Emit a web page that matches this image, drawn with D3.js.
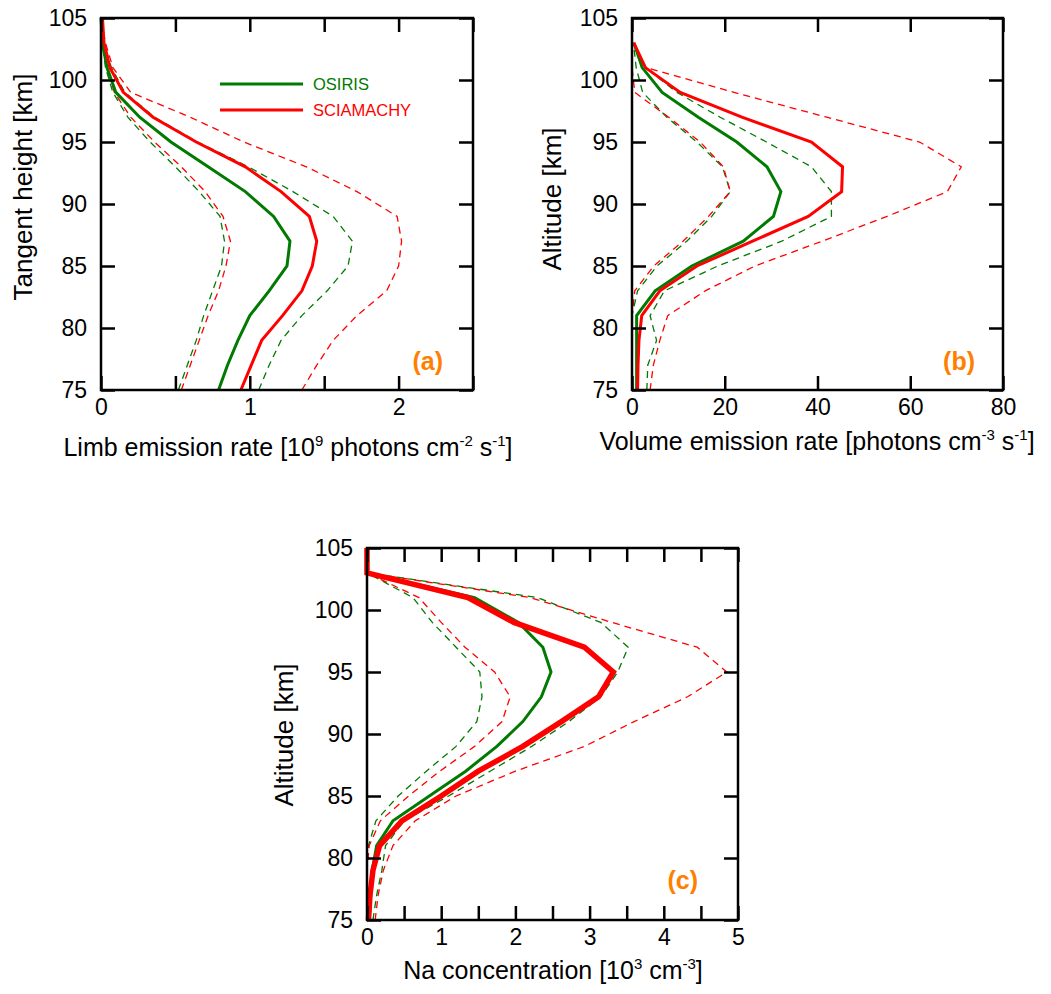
<!DOCTYPE html>
<html>
<head>
<meta charset="utf-8">
<script src="https://cdn.jsdelivr.net/npm/d3@7"></script>
<style>
  body { margin: 0; background: #fff; }
  svg { display: block; }
  text { font-family: "Liberation Sans", Arial, Helvetica, sans-serif; }
</style>
</head>
<body>
<svg id="fig" width="1051" height="994"></svg>
<script>
// altitude grid (km), shared by all panels
var altitudes = [75, 77, 79, 81, 83, 85, 87, 89, 91, 93, 95, 97, 99, 101, 103, 105]

// (a) limb emission rate [1e9 photons cm-2 s-1]
var osirisA   = [0.79, 0.85, 0.92, 1.00, 1.13, 1.25, 1.27, 1.16, 0.97, 0.72, 0.47, 0.26, 0.10, 0.04, 0.01, 0.00]
var osirisLoA = [0.52, 0.58, 0.64, 0.69, 0.75, 0.81, 0.83, 0.80, 0.66, 0.50, 0.33, 0.18, 0.08, 0.03, 0.01, 0.00]
var osirisHiA = [1.06, 1.13, 1.21, 1.35, 1.52, 1.66, 1.69, 1.56, 1.29, 0.99, 0.65, 0.36, 0.16, 0.07, 0.02, 0.00]
var sciaA     = [0.94, 1.01, 1.08, 1.22, 1.35, 1.42, 1.45, 1.40, 1.21, 0.97, 0.64, 0.35, 0.15, 0.06, 0.02, 0.01]
var sciaLoA   = [0.54, 0.60, 0.66, 0.72, 0.79, 0.84, 0.87, 0.82, 0.70, 0.54, 0.36, 0.20, 0.09, 0.04, 0.02, 0.00]
var sciaHiA   = [1.35, 1.45, 1.56, 1.72, 1.92, 2.00, 2.02, 1.99, 1.72, 1.38, 0.96, 0.60, 0.20, 0.08, 0.03, 0.00]

// (b) volume emission rate [photons cm-3 s-1], 75..103 km
var osirisB   = [1.0, 1.0, 1.0, 1.0, 5.0, 12.9, 24.0, 30.5, 32.1, 29.1, 22.6, 14.3, 6.5, 2.2, 0.4]
var osirisLoB = [0.0, 0.0, 0.0, 0.0, 1.2, 5.4, 11.8, 17.2, 21.2, 19.5, 14.0, 7.5, 2.3, 0.9, 0.3]
var osirisHiB = [3.2, 3.4, 5.3, 3.9, 7.0, 18.5, 32.3, 43.0, 43.0, 38.7, 29.0, 19.0, 9.7, 2.9, 0.4]
var sciaB     = [1.2, 1.3, 1.5, 2.1, 6.0, 14.0, 26.0, 38.0, 45.2, 45.4, 38.7, 23.7, 10.4, 2.9, 0.4]
var sciaLoB   = [0.0, 0.0, 0.0, 0.0, 0.6, 4.7, 11.0, 16.5, 21.2, 19.7, 14.7, 7.9, 0.6, 0.0, 0.0]
var sciaHiB   = [3.9, 4.6, 6.0, 7.7, 15.8, 26.5, 41.0, 55.0, 68.0, 71.0, 62.0, 42.0, 22.0, 3.0, 0.3]

// (c) Na concentration [1e3 cm-3]
var osirisC   = [0.03, 0.05, 0.07, 0.13, 0.35, 0.84, 1.33, 1.75, 2.10, 2.35, 2.48, 2.37, 2.04, 1.45, 0.00, 0.00]
var osirisLoC = [0.00, 0.00, 0.00, 0.02, 0.12, 0.42, 0.80, 1.20, 1.48, 1.55, 1.52, 1.20, 0.88, 0.62, 0.00, 0.00]
var osirisHiC = [0.08, 0.13, 0.20, 0.25, 0.50, 1.10, 1.66, 2.22, 2.72, 3.15, 3.38, 3.52, 3.15, 2.30, 0.00, 0.00]
var sciaC     = [0.02, 0.04, 0.08, 0.17, 0.47, 1.00, 1.50, 2.10, 2.62, 3.12, 3.32, 2.93, 1.98, 1.36, 0.00, 0.00]
var sciaLoC   = [0.00, 0.00, 0.00, 0.03, 0.18, 0.56, 0.98, 1.45, 1.82, 1.93, 1.72, 1.32, 1.00, 0.70, 0.00, 0.00]
var sciaHiC   = [0.11, 0.15, 0.22, 0.35, 0.65, 1.20, 2.00, 2.93, 3.60, 4.32, 4.85, 4.45, 3.30, 2.20, 0.00, 0.00]

var altTicks = [75, 80, 85, 90, 95, 100, 105]
var xTicksA = [0, 0.5, 1, 1.5, 2, 2.5], xLabelsA = [0, 1, 2]
var xTicksB = [0, 20, 40, 60, 80], xLabelsB = [0, 20, 40, 60, 80]
var xTicksC = [0, 0.5, 1, 1.5, 2, 2.5, 3, 3.5, 4, 4.5, 5], xLabelsC = [0, 1, 2, 3, 4, 5]
var legendNames = ['OSIRIS', 'SCIAMACHY']

var green = '#007a00'
var red = '#ff0000'
var orange = '#ff8000'
var font = '"Liberation Sans", Arial, Helvetica, sans-serif'

var svg = d3.select('#fig')
svg.append('rect').attr('width', 1051).attr('height', 994).attr('fill', '#fff')

function seriesSet(lo, hi, loS, hiS, mid, midS, redWidth) {
  return [
    { v: lo, c: green, w: 1.3, dash: '7,5' },
    { v: hi, c: green, w: 1.3, dash: '7,5' },
    { v: loS, c: red, w: 1.3, dash: '7,5' },
    { v: hiS, c: red, w: 1.3, dash: '7,5' },
    { v: mid, c: green, w: 3 },
    { v: midS, c: red, w: redWidth }
  ]
}

var panels = [
  {
    id: 'a', left: 101, right: 473, top: 18, bottom: 390,
    xDomain: [0, 2.5], xTicks: xTicksA, xLabels: xLabelsA,
    series: seriesSet(osirisLoA, osirisHiA, sciaLoA, sciaHiA, osirisA, sciaA, 3),
    yTitle: 'Tangent height [km]', yTitlePos: [32, 187],
    xTitle: [['Limb emission rate [10'], ['9', 1], [' photons cm'], ['-2', 1], [' s'], ['-1', 1], [']']],
    xTitlePos: [288, 456],
    tag: '(a)', tagPos: [443, 370]
  },
  {
    id: 'b', left: 632, right: 1003, top: 18, bottom: 390,
    xDomain: [0, 80], xTicks: xTicksB, xLabels: xLabelsB,
    series: seriesSet(osirisLoB, osirisHiB, sciaLoB, sciaHiB, osirisB, sciaB, 3),
    yTitle: 'Altitude [km]', yTitlePos: [561, 199],
    xTitle: [['Volume emission rate [photons cm'], ['-3', 1], [' s'], ['-1', 1], [']']],
    xTitlePos: [817, 450],
    tag: '(b)', tagPos: [975, 370]
  },
  {
    id: 'c', left: 367, right: 738, top: 548, bottom: 920,
    xDomain: [0, 5], xTicks: xTicksC, xLabels: xLabelsC,
    series: seriesSet(osirisLoC, osirisHiC, sciaLoC, sciaHiC, osirisC, sciaC, 5.5),
    yTitle: 'Altitude [km]', yTitlePos: [293, 735],
    xTitle: [['Na concentration [10'], ['3', 1], [' cm'], ['-3', 1], [']']],
    xTitlePos: [553, 979],
    tag: '(c)', tagPos: [698, 889]
  }
]

function styleAxis(g, size) {
  g.select('.domain').remove()
  g.attr('font-family', font).attr('font-size', size)
  g.selectAll('.tick line').attr('stroke', '#000').attr('stroke-width', 2.5)
  g.selectAll('.tick text').attr('fill', '#000')
}

panels.forEach(function(p) {
  var x = d3.scaleLinear().domain(p.xDomain).range([p.left, p.right])
  var y = d3.scaleLinear().domain([75, 105]).range([p.bottom, p.top])

  var clipId = 'clip-' + p.id
  svg.append('clipPath').attr('id', clipId)
    .append('rect')
    .attr('x', p.left - 3).attr('y', p.top - 3)
    .attr('width', p.right - p.left + 6).attr('height', p.bottom - p.top + 6)

  var line = d3.line()
    .x(function(d) { return x(d[1]) })
    .y(function(d) { return y(d[0]) })

  var lines = svg.append('g').attr('clip-path', 'url(#' + clipId + ')')
  p.series.forEach(function(s) {
    lines.append('path')
      .datum(s.v.map(function(v, i) { return [altitudes[i], v] }))
      .attr('d', line)
      .attr('fill', 'none')
      .attr('stroke', s.c)
      .attr('stroke-width', s.w)
      .attr('stroke-dasharray', s.dash || null)
      .attr('stroke-linejoin', 'miter')
  })

  // axes, ticks pointing inward on all four sides
  var fmtX = function(d) { return p.xLabels.indexOf(d) >= 0 ? d : '' }
  svg.append('g')
    .attr('transform', 'translate(0,' + p.bottom + ')')
    .call(d3.axisBottom(x).tickValues(p.xTicks).tickSize(-14).tickPadding(9).tickFormat(fmtX))
    .call(styleAxis, 23)
  svg.append('g')
    .attr('transform', 'translate(0,' + p.top + ')')
    .call(d3.axisTop(x).tickValues(p.xTicks).tickSize(-14).tickFormat(''))
    .call(styleAxis, 23)
  svg.append('g')
    .attr('transform', 'translate(' + p.left + ',0)')
    .call(d3.axisLeft(y).tickValues(altTicks).tickSize(-14).tickPadding(14))
    .call(styleAxis, 23)
  svg.append('g')
    .attr('transform', 'translate(' + p.right + ',0)')
    .call(d3.axisRight(y).tickValues(altTicks).tickSize(-14).tickFormat(''))
    .call(styleAxis, 23)

  svg.append('rect')
    .attr('x', p.left).attr('y', p.top)
    .attr('width', p.right - p.left).attr('height', p.bottom - p.top)
    .attr('fill', 'none').attr('stroke', '#000').attr('stroke-width', 2.5)

  // y title
  svg.append('text')
    .attr('transform', 'translate(' + p.yTitlePos[0] + ',' + p.yTitlePos[1] + ') rotate(-90)')
    .attr('text-anchor', 'middle')
    .attr('font-size', 26)
    .text(p.yTitle)

  // x title with superscripts
  var t = svg.append('text')
    .attr('x', p.xTitlePos[0]).attr('y', p.xTitlePos[1])
    .attr('text-anchor', 'middle')
    .attr('font-size', 25)
  var raised = false
  p.xTitle.forEach(function(part) {
    var sup = !!part[1]
    var ts = t.append('tspan').text(part[0])
    if (sup && !raised) { ts.attr('dy', -10).attr('font-size', 15); raised = true }
    else if (sup) { ts.attr('font-size', 15) }
    else if (raised) { ts.attr('dy', 10); raised = false }
  })

  // panel tag
  svg.append('text')
    .attr('x', p.tagPos[0]).attr('y', p.tagPos[1])
    .attr('text-anchor', 'end')
    .attr('font-size', 25).attr('font-weight', 'bold')
    .attr('fill', orange)
    .text(p.tag)
})

// legend in panel (a)
var legend = svg.append('g').attr('transform', 'translate(220,84)')
legendNames.forEach(function(name, i) {
  var c = i === 0 ? green : red
  legend.append('line')
    .attr('x1', 0).attr('x2', 83)
    .attr('y1', i * 26).attr('y2', i * 26)
    .attr('stroke', c).attr('stroke-width', 3)
  legend.append('text')
    .attr('x', 93).attr('y', i * 26 + 6)
    .attr('font-size', 16.5)
    .attr('fill', c)
    .text(name)
})
</script>
</body>
</html>
